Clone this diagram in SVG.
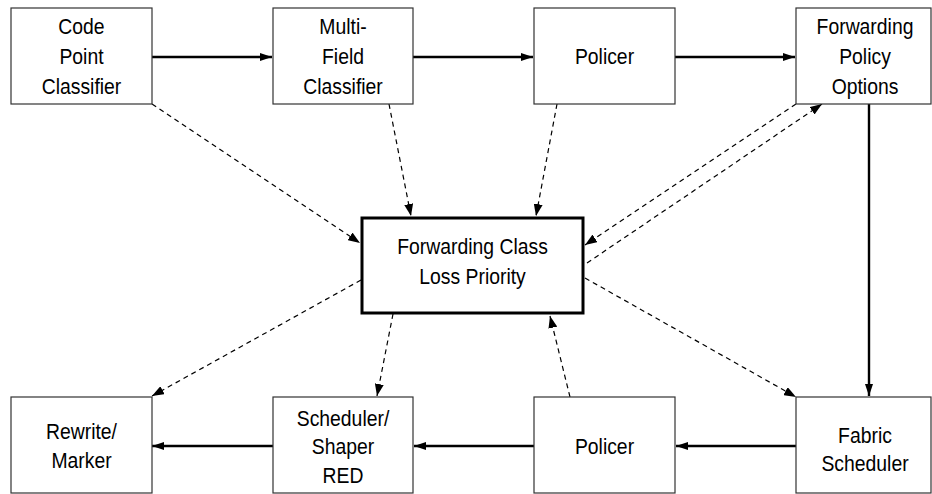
<svg xmlns="http://www.w3.org/2000/svg" width="932" height="494" viewBox="0 0 932 494">
<style>
.box{fill:#fff;stroke:#333;stroke-width:1.2}
.main{fill:#fff;stroke:#000;stroke-width:3}
text{font-family:"Liberation Sans",Arial,sans-serif;font-size:22px;fill:#000;text-anchor:middle}
.solid{stroke:#000;stroke-width:2.4;fill:none}
.dash{stroke:#000;stroke-width:1.2;fill:none;stroke-dasharray:5 4}
</style>
<defs>
<marker id="ah" viewBox="0 0 12 9" refX="12" refY="4.5" markerWidth="12" markerHeight="9" markerUnits="userSpaceOnUse" orient="auto">
<path d="M0,0 L12,4.5 L0,9 Z" fill="#000"/>
</marker>
<marker id="ahs" viewBox="0 0 12 8" refX="12" refY="4" markerWidth="12" markerHeight="8" markerUnits="userSpaceOnUse" orient="auto">
<path d="M0,0 L12,4 L0,8 Z" fill="#000"/>
</marker>
</defs>
<g id="connectors">
<line class="solid" x1="152" y1="57" x2="272" y2="57" marker-end="url(#ahs)"/>
<line class="solid" x1="413" y1="57" x2="533" y2="57" marker-end="url(#ahs)"/>
<line class="solid" x1="675" y1="57" x2="795" y2="57" marker-end="url(#ahs)"/>
<line class="solid" x1="869" y1="104" x2="869" y2="396" marker-end="url(#ahs)"/>
<line class="solid" x1="796" y1="446" x2="676" y2="446" marker-end="url(#ahs)"/>
<line class="solid" x1="534" y1="446" x2="414" y2="446" marker-end="url(#ahs)"/>
<line class="solid" x1="273" y1="446" x2="152" y2="446" marker-end="url(#ahs)"/>
<line class="dash" x1="152" y1="104" x2="360" y2="243" marker-end="url(#ah)"/>
<line class="dash" x1="389" y1="104" x2="411" y2="216" marker-end="url(#ah)"/>
<line class="dash" x1="557" y1="104" x2="536" y2="216" marker-end="url(#ah)"/>
<line class="dash" x1="796" y1="104" x2="585" y2="245" marker-end="url(#ah)"/>
<line class="dash" x1="587" y1="263" x2="822" y2="104" marker-end="url(#ah)"/>
<line class="dash" x1="585" y1="278" x2="796" y2="397" marker-end="url(#ah)"/>
<line class="dash" x1="361" y1="280" x2="152" y2="396" marker-end="url(#ah)"/>
<line class="dash" x1="393" y1="314" x2="377" y2="396" marker-end="url(#ah)"/>
<line class="dash" x1="570" y1="397" x2="550" y2="316" marker-end="url(#ah)"/>
</g>
<g id="code-point-classifier">
<rect class="box" x="11" y="8" width="141" height="96"/>
<text transform="matrix(0.88 0 0 1 81.5 0)" x="0" y="34">Code</text>
<text transform="matrix(0.88 0 0 1 81.5 0)" x="0" y="64">Point</text>
<text transform="matrix(0.88 0 0 1 81.5 0)" x="0" y="94">Classifier</text>
</g>
<g id="multi-field-classifier">
<rect class="box" x="273" y="8" width="140" height="96"/>
<text transform="matrix(0.88 0 0 1 343 0)" x="0" y="34">Multi-</text>
<text transform="matrix(0.88 0 0 1 343 0)" x="0" y="64">Field</text>
<text transform="matrix(0.88 0 0 1 343 0)" x="0" y="94">Classifier</text>
</g>
<g id="policer-top">
<rect class="box" x="534" y="8" width="141" height="96"/>
<text transform="matrix(0.88 0 0 1 604.5 0)" x="0" y="64">Policer</text>
</g>
<g id="forwarding-policy-options">
<rect class="box" x="796" y="8" width="135" height="96"/>
<text transform="matrix(0.88 0 0 1 865 0)" x="0" y="34">Forwarding</text>
<text transform="matrix(0.88 0 0 1 865 0)" x="0" y="64">Policy</text>
<text transform="matrix(0.88 0 0 1 865 0)" x="0" y="94">Options</text>
</g>
<g id="forwarding-class">
<rect class="main" x="362" y="218" width="221" height="95"/>
<text transform="matrix(0.88 0 0 1 472.5 0)" x="0" y="254">Forwarding Class</text>
<text transform="matrix(0.88 0 0 1 472.5 0)" x="0" y="284">Loss Priority</text>
</g>
<g id="rewrite-marker">
<rect class="box" x="11" y="397" width="141" height="96"/>
<text transform="matrix(0.88 0 0 1 81.5 0)" x="0" y="439">Rewrite/</text>
<text transform="matrix(0.88 0 0 1 81.5 0)" x="0" y="468">Marker</text>
</g>
<g id="scheduler-shaper">
<rect class="box" x="273" y="397" width="140" height="96"/>
<text transform="matrix(0.88 0 0 1 343 0)" x="0" y="426">Scheduler/</text>
<text transform="matrix(0.88 0 0 1 343 0)" x="0" y="454">Shaper</text>
<text transform="matrix(0.88 0 0 1 343 0)" x="0" y="483">RED</text>
</g>
<g id="policer-bottom">
<rect class="box" x="534" y="397" width="141" height="96"/>
<text transform="matrix(0.88 0 0 1 604.5 0)" x="0" y="454">Policer</text>
</g>
<g id="fabric-scheduler">
<rect class="box" x="796" y="397" width="135" height="96"/>
<text transform="matrix(0.88 0 0 1 865 0)" x="0" y="443">Fabric</text>
<text transform="matrix(0.88 0 0 1 865 0)" x="0" y="471">Scheduler</text>
</g>
</svg>
